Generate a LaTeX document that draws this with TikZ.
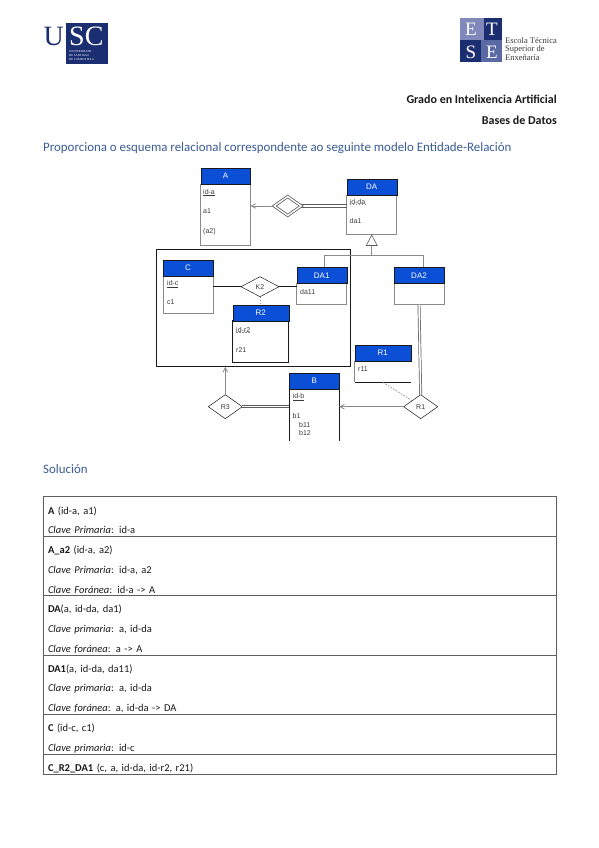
\documentclass[tikz,border=0pt]{standalone}
\usepackage{fontspec}
\setmainfont{Carlito}
\newfontfamily\erfont{Liberation Sans}
\newfontfamily\logofont{Liberation Serif}
\usepackage{xcolor}
\usetikzlibrary{arrows.meta,positioning,calc,shapes.geometric}
\definecolor{Ink}{HTML}{1A1A1A}
\definecolor{Title}{HTML}{3A5C94}
\definecolor{Head}{HTML}{0B4FD6}
\definecolor{Edge}{HTML}{8A8A8A}
\definecolor{Frame}{HTML}{5E5E5E}
\definecolor{Field}{HTML}{3A3A3A}
\definecolor{Navy}{HTML}{1C2E72}
\definecolor{Slate}{HTML}{5A68A4}
\definecolor{Lilac}{HTML}{8088BC}
\tikzset{
  enthead/.style={draw=Ink,fill=Head,outer sep=0pt,inner sep=0pt,minimum height=16pt,font=\erfont\fontsize{8}{9}\selectfont,text=white},
  entbody/.style={draw=Edge,line width=0.8pt,fill=white,outer sep=0pt,inner sep=0pt},
  openbody/.style={outer sep=0pt,inner sep=0pt},
  attr/.style={anchor=west,inner sep=0pt,font=\erfont\fontsize{7}{8}\selectfont,text=Field},
  rel/.style={diamond,draw=Ink,fill=white,line width=0.5pt,inner sep=0pt,outer sep=0pt,font=\erfont\fontsize{7}{8}\selectfont,text=Field},
  weakrel/.style={diamond,draw=Frame,double=white,double distance=1.4pt,line width=0.8pt,fill=white,inner sep=0pt,outer sep=0pt},
  line/.style={draw=Ink,line width=0.6pt},
  arr/.style={-{Straight Barb[length=1.6mm,width=1.6mm]},draw=Edge,line width=0.8pt},
  twin/.style={draw=Frame,double=white,double distance=1.5pt,line width=0.7pt},
  twinline/.style={draw=Frame,line width=0.7pt},
  softdash/.style={draw=Edge,line width=0.7pt,dash pattern=on 1.5pt off 1.5pt},
  underdash/.style={softdash,yshift=-1.2pt},
  rowbox/.style={draw=Frame,line width=0.9pt,outer sep=0pt,inner xsep=5pt,inner ysep=0pt,minimum width=513pt,text width=503pt,align=left,font=\fontsize{10.5}{19.7}\selectfont,text=Ink},
  heading/.style={anchor=west,inner sep=0pt,font=\fontsize{12.9}{14}\selectfont,text=Title},
  course/.style={anchor=east,inner sep=0pt,font=\fontsize{12}{14}\bfseries\selectfont,text=Ink},
  logotext/.style={inner sep=0pt,font=\logofont\fontsize{3}{4}\selectfont,align=left},
  logoletter/.style={inner sep=0pt,font=\logofont\fontsize{19}{19}\selectfont,text=white}
}
\newcommand{\firstline}{\rule{0pt}{16pt}}
\begin{document}
\begin{tikzpicture}[x=1pt,y=-1pt]
  \path[use as bounding box,fill=white] (0,0) rectangle (599,848);

  % logos
  \node[fill=Navy,minimum width=42pt,minimum height=41pt,inner sep=0pt] (uscsq) at (87,43.5) {};
  \node[inner sep=0pt,font=\logofont\fontsize{28}{28}\selectfont,text=Navy,anchor=base east] (uscu) at (64,46) {U};
  \node[inner sep=0pt,font=\logofont\fontsize{28}{28}\selectfont,text=white,anchor=base west] (uscsc) at (69,46) {SC};
  \node[logotext,text=white,anchor=north west] (usctxt) at (69,50) {UNIVERSIDADE\\DE SANTIAGO\\DE COMPOSTELA};
  \node[fill=Navy,minimum width=42pt,minimum height=44pt,inner sep=0pt] (etsesq) at (481,40.5) {};
  \node[fill=Lilac,minimum width=24pt,minimum height=22pt,inner sep=0pt,anchor=north west] (etsetl) at (etsesq.north west) {};
  \node[fill=Slate,minimum width=21pt,minimum height=22pt,inner sep=0pt,anchor=south east] (etsebr) at (etsesq.south east) {};
  \node[logoletter] (e1) at (471,29) {E};
  \node[logoletter] (t1) at (492,29) {T};
  \node[logoletter] (s1) at (471,52) {S};
  \node[logoletter] (e2) at (492,52) {E};
  \node[logotext,text=Field,anchor=west,font=\logofont\fontsize{8.5}{7.5}\selectfont] (etsetxt) at (505,49) {Escola Técnica\\Superior de\\Enxeñaría};

  % heading
  \node[course] (grado) at (557,99) {Grado en Intelixencia Artificial};
  \node[course] (bases) at (557,120) {Bases de Datos};
  \node[heading] (enun) at (43,148) {Proporciona o esquema relacional correspondente ao seguinte modelo Entidade-Relación};
  \node[heading] (sol) at (43,469) {Solución};

  % aggregation
  \node[draw=Ink,line width=0.9pt,minimum width=193.5pt,minimum height=117.5pt,outer sep=0pt] (agg) at (253.5,308) {};

  % entities
  \node[entbody,minimum width=49.5pt,minimum height=61pt] (bA) at (225.5,214.5) {};
  \node[enthead,minimum width=49.5pt,above=0pt of bA] (hA) {A};
  \node[entbody,minimum width=50pt,minimum height=39pt] (bDA) at (371.7,214.5) {};
  \node[enthead,minimum width=50pt,above=0pt of bDA] (hDA) {DA};
  \node[entbody,minimum width=50pt,minimum height=37pt] (bC) at (188,294.5) {};
  \node[enthead,minimum width=50pt,above=0pt of bC] (hC) {C};
  \node[entbody,minimum width=50pt,minimum height=21.5pt] (bDAa) at (321.7,294) {};
  \node[enthead,minimum width=50pt,above=0pt of bDAa] (hDAa) {DA1};
  \node[entbody,minimum width=50pt,minimum height=21.5pt] (bDAb) at (419,294) {};
  \node[enthead,minimum width=50pt,above=0pt of bDAb] (hDAb) {DA2};
  \node[entbody,draw=Ink,minimum width=56pt,minimum height=42pt] (bRb) at (260.7,341.7) {};
  \node[enthead,minimum width=56pt,above=0pt of bRb] (hRb) {R2};
  \node[openbody,minimum width=56pt,minimum height=21.5pt] (bRa) at (382.7,371.5) {};
  \node[enthead,minimum width=56pt,above=0pt of bRa] (hRa) {R1};
  \node[openbody,minimum width=49.5pt,minimum height=52pt] (bB) at (314.2,415) {};
  \node[enthead,minimum width=49.5pt,above=0pt of bB] (hB) {B};
  \draw[line] (bB.north west) -- (bB.south west);
  \draw[line] (bB.north east) -- (bB.south east);
  \draw[draw=Edge,line width=0.6pt] (bRa.north west) -- (bRa.south west);
  \draw[line,line width=0.8pt] (bRa.south west) -- (bRa.south east);

  % attributes
  \node[attr] (ida) at (203,192.7) {\underline{id-a}};
  \node[attr] (a1) at (203,211) {a1};
  \node[attr] (a2) at (203,232) {(a2)};
  \node[attr] (idda) at (349.5,202) {id-da};
  \draw[underdash] (idda.south west) -- (idda.south east);
  \node[attr] (da1) at (349.5,221) {da1};
  \node[attr] (idc) at (167,284) {\underline{id-c}};
  \node[attr] (c1) at (167,302) {c1};
  \node[attr] (da11) at (300,292) {da11};
  \node[attr] (idr2) at (236,330) {id-r2};
  \draw[underdash] (idr2.south west) -- (idr2.south east);
  \node[attr] (r21) at (236,350) {r21};
  \node[attr] (r11) at (358,369) {r11};
  \node[attr] (idb) at (292.5,397) {\underline{id-b}};
  \node[attr] (b1) at (292.5,416) {b1};
  \node[attr] (b11) at (299,424.5) {b11};
  \node[attr] (b12) at (299,433) {b12};

  % relationships
  \node[weakrel,minimum width=27pt,minimum height=19pt] (rw) at (287.7,206) {};
  \node[rel,minimum width=38pt,minimum height=20pt] (k2) at (260,286.7) {K2};
  \node[rel,minimum width=34pt,minimum height=24pt] (r3) at (225.3,406.7) {R3};
  \node[rel,minimum width=34pt,minimum height=24pt] (r1) at (420.7,406.7) {R1};

  % connectors
  \draw[arr] (rw.west) -- (rw.west -| bA.east);
  \foreach \off in {-1.2pt,1.2pt}
    \draw[twinline] ([yshift=\off]rw.east) -- ([yshift=\off]rw.east -| bDA.west);
  \draw[line] (k2.west) -- (k2.west -| bC.east);
  \draw[line] (k2.east) -- (k2.east -| bDAa.west);
  \draw[softdash] (k2.south) -- (hRb.north -| k2.south);
  \draw[arr] (r3.north) -- (agg.south -| r3.north);
  \draw[twin] (r3.east) -- (r3.east -| bB.west);
  \draw[arr] (r1.west) -- (r1.west -| bB.east);
  \draw[twin] (bDAb.south) -- (r1.north);
  \draw[softdash] (r1.north west) -- (bRa.south);

  % inheritance
  \node[isosceles triangle,isosceles triangle apex angle=55,shape border rotate=90,draw=Ink!70,fill=white,line width=0.6pt,minimum height=10.5pt,inner sep=0pt,outer sep=0pt,anchor=apex] (isa) at (371.7,235) {};
  \coordinate (fork) at (371.7,255.7);
  \draw[draw=Edge,line width=0.7pt] (isa.south) -- (fork);
  \draw[draw=Edge,line width=0.7pt] (hDAa.north -| 324.3,0) |- (fork) -| (hDAb.north -| 423.3,0);

  % solution table
  \node[rowbox,minimum height=40pt,anchor=north] (rowA) at (299.5,496) {\firstline\textbf{A} (id-a, a1)\\\textit{Clave Primaria}: id-a};
  \node[rowbox,minimum height=59pt,below=0pt of rowA] (rowAa) {\firstline\textbf{A\_a2} (id-a, a2)\\\textit{Clave Primaria}: id-a, a2\\\textit{Clave Foránea}: id-a -> A};
  \node[rowbox,minimum height=60pt,below=0pt of rowAa] (rowDA) {\firstline\textbf{DA}(a, id-da, da1)\\\textit{Clave primaria}: a, id-da\\\textit{Clave foránea}: a -> A};
  \node[rowbox,minimum height=59pt,below=0pt of rowDA] (rowDAa) {\firstline\textbf{DA1}(a, id-da, da11)\\\textit{Clave primaria}: a, id-da\\\textit{Clave foránea}: a, id-da -> DA};
  \node[rowbox,minimum height=40pt,below=0pt of rowDAa] (rowC) {\firstline\textbf{C} (id-c, c1)\\\textit{Clave primaria}: id-c};
  \node[rowbox,minimum height=20pt,below=0pt of rowC] (rowCR) {\firstline\textbf{C\_R2\_DA1} (c, a, id-da, id-r2, r21)};
\end{tikzpicture}
\end{document}
